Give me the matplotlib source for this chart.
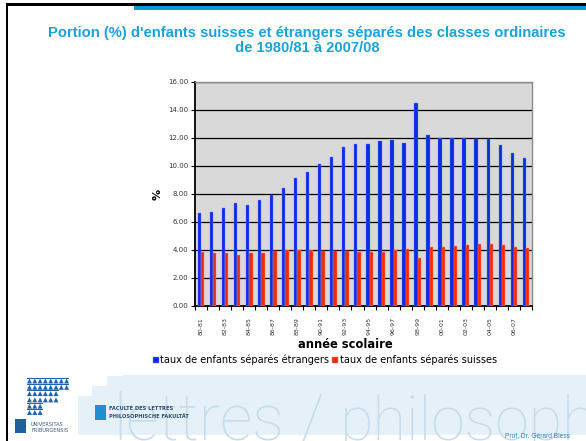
import matplotlib
matplotlib.use("Agg")
import matplotlib.pyplot as plt
import numpy as np
from matplotlib.patches import Rectangle, Polygon

years = ["80-81", "81-82", "82-83", "83-84", "84-85", "85-86", "86-87", "87-88",
         "88-89", "89-90", "90-91", "91-92", "92-93", "93-94", "94-95", "95-96",
         "96-97", "97-98", "98-99", "99-00", "00-01", "01-02", "02-03", "03-04",
         "04-05", "05-06", "06-07", "07-08"]
etrangers = [6.64, 6.69, 6.98, 7.33, 7.21, 7.55, 7.93, 8.45, 9.12, 9.55, 10.14, 10.62,
             11.36, 11.57, 11.60, 11.76, 11.83, 11.64, 14.48, 12.24, 12.02, 12.02,
             12.00, 11.95, 11.90, 11.48, 10.90, 10.57]
suisses = [3.84, 3.81, 3.81, 3.65, 3.79, 3.81, 3.91, 3.98, 4.00, 3.98, 3.91, 3.91,
           3.91, 3.88, 3.88, 3.88, 3.98, 4.07, 3.41, 4.19, 4.24, 4.31, 4.36, 4.40,
           4.45, 4.36, 4.24, 4.14]
yticks = [0, 2, 4, 6, 8, 10, 12, 14, 16]
label_etr = "taux de enfants séparés étrangers"
label_sui = "taux de enfants séparés suisses"

W, H = 586, 441
fig = plt.figure(figsize=(W / 100, H / 100), dpi=100)
fig.patch.set_facecolor("white")

def fx(px):
    return px / W

def fy(py):
    return 1 - py / H

# slide frame
fig.add_artist(Rectangle((fx(6), fy(441)), fx(2), fy(4) - fy(441), transform=fig.transFigure,
                         color="black", lw=0))
fig.add_artist(Rectangle((fx(6), fy(5.5)), 1, fy(3) - fy(5.5), transform=fig.transFigure,
                         color="black", lw=0))
fig.add_artist(Rectangle((fx(134), fy(9.5)), 1, fy(5.5) - fy(9.5), transform=fig.transFigure,
                         color="#0a9bd6", lw=0))

# bottom band (staircase)
band = "#e5f0f8"
pts = [(8, 435), (8, 372), (122, 372), (122, 375), (586, 375), (586, 435)]
fig.add_artist(Polygon([(fx(x), fy(y)) for x, y in pts], closed=True, transform=fig.transFigure,
                       color=band, lw=0))
steps = [(8, 372, 122, 376), (8, 372, 107, 386), (8, 372, 92, 396), (8, 372, 78, 437)]
for x0, y0, x1, y1 in steps:
    fig.add_artist(Rectangle((fx(x0), fy(y1)), fx(x1 - x0), fy(y0) - fy(y1),
                             transform=fig.transFigure, color="white", lw=0))
big = dict(color="#c6dceb", family="Roboto", fontweight="light", ha="left", va="baseline")
fig.text(fx(113), fy(440), "lettres", fontsize=46, **big)
fig.text(fx(300), fy(440), "/", fontsize=46, **big)
fig.text(fx(340), fy(440), "philosophisc", fontsize=44, **big)

# university logo
rows = [8, 8, 6, 6, 3, 3]
for r, n in enumerate(rows):
    y = 378.5 + r * 6.3
    for i in range(n):
        x = 27 + i * 5.3
        tri = [(fx(x), fy(y + 5)), (fx(x + 5), fy(y + 5)), (fx(x + 2.5), fy(y))]
        fig.add_artist(Polygon(tri, closed=True, transform=fig.transFigure, color="#2462a8", lw=0))
    fig.add_artist(Rectangle((fx(27), fy(y)), fx(n * 5.3), fy(y - 0.8) - fy(y),
                             transform=fig.transFigure, color="#2462a8", lw=0))
fig.add_artist(Rectangle((fx(15), fy(433)), fx(11), fy(419) - fy(433), transform=fig.transFigure,
                         color="#1f5f9f", lw=0))
fig.text(fx(31), fy(424), "UNIVERSITAS", fontsize=3.6, color="#3a5a80", ha="left", va="center")
fig.text(fx(31), fy(431), "FRIBURGENSIS", fontsize=3.6, color="#3a5a80", ha="left", va="center")

# faculty
fig.add_artist(Rectangle((fx(95), fy(420)), fx(11), fy(405) - fy(420), transform=fig.transFigure,
                         color="#1e90d0", lw=0))
fig.text(fx(109), fy(408), "FACULTÉ DES LETTRES", fontsize=3.7, color="#2d4d70",
         ha="left", va="center", fontweight="bold")
fig.text(fx(109), fy(416.5), "PHILOSOPHISCHE FAKULTÄT", fontsize=3.7, color="#2d4d70",
         ha="left", va="center", fontweight="bold")
fig.text(fx(505), fy(436), "Prof. Dr. Gérard Bless", fontsize=4.8, color="#2e7dc6",
         ha="left", va="center", family="Liberation Sans")

# title
fig.text(fx(307), fy(33), "Portion (%) d'enfants suisses et étrangers séparés des classes ordinaires",
         fontsize=10.6, color="#1ba1dc", fontweight="bold", family="Liberation Sans",
         ha="center", va="center")
fig.text(fx(307), fy(48.5), "de 1980/81 à 2007/08",
         fontsize=10.6, color="#1ba1dc", fontweight="bold", family="Liberation Sans",
         ha="center", va="center")

# chart
ax = fig.add_axes([fx(195), fy(306), fx(532) - fx(195), fy(82) - fy(306)])
ax.set_facecolor("#d9d9d9")
x = np.arange(len(years))
w = 0.28
ax.bar(x - w / 2, etrangers, width=w, color="#0a2ae6", edgecolor="#6f86e8", linewidth=0.3,
       label=label_etr, zorder=3)
ax.bar(x + w / 2, suisses, width=w, color="#f02a0a", edgecolor="#f08a70", linewidth=0.3,
       label=label_sui, zorder=3)
ax.set_xlim(-0.5, len(years) - 0.5)
ax.set_ylim(0, 16)
ax.set_yticks(yticks)
ax.set_yticklabels(["%.2f" % v for v in yticks], fontsize=5, color="#333333")
ax.yaxis.grid(True, color="black", linewidth=0.9, zorder=1)
ax.set_axisbelow(True)
ax.tick_params(axis="y", length=3, width=0.8, pad=2)
ax.set_xticks(x[::2])
ax.set_xticklabels(years[::2], rotation=90, fontsize=4.5, color="#333333")
ax.tick_params(axis="x", which="major", length=0, pad=8)
ax.set_xticks(np.arange(len(years) + 1) - 0.5, minor=True)
ax.tick_params(axis="x", which="minor", length=3, width=0.8)
for s in ["left", "bottom"]:
    ax.spines[s].set_color("black")
    ax.spines[s].set_linewidth(1.3)
for s in ["top", "right"]:
    ax.spines[s].set_color("#8a8a8a")
    ax.spines[s].set_linewidth(1.0)

fig.text(fx(345.5), fy(345), "année scolaire", fontsize=8.3, fontweight="bold",
         ha="center", va="center")
fig.text(fx(158), fy(194), "%", fontsize=8, fontweight="bold", rotation=90,
         ha="center", va="center")

fig.legend(loc="center", bbox_to_anchor=(fx(325), fy(360)), ncol=2, frameon=False,
           fontsize=7, handlelength=0.6, handleheight=0.6, handletextpad=0.2,
           columnspacing=0.3, borderpad=0)

fig.savefig("out.png", dpi=100)
